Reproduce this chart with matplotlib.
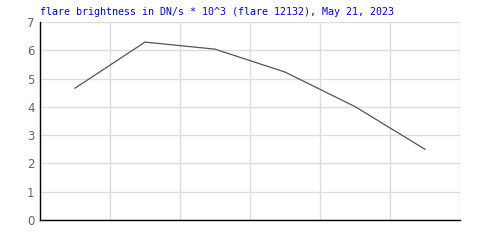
import matplotlib
matplotlib.use("Agg")
import matplotlib.pyplot as plt

# flare brightness samples (DN/s * 10^3)
samples = [0, 1, 2, 3, 4, 5]
brightness = [4.66, 6.29, 6.04, 5.23, 4.01, 2.50]
yticks = [0, 1, 2, 3, 4, 5, 6, 7]
title = "flare brightness in DN/s * 10^3 (flare 12132), May 21, 2023"

fig = plt.figure(figsize=(5, 2.5), dpi=100)
ax = fig.add_axes([0.08, 0.12, 0.84, 0.792])

ax.plot(samples, brightness, color="#555555", linewidth=0.9)

ax.set_xlim(-0.5, 5.5)
ax.set_ylim(0, 7)
ax.set_yticks(yticks)
ax.set_xticks([i + 0.5 for i in samples])
ax.set_xticklabels([])
ax.grid(True, color="#dddddd", linewidth=1)
ax.set_axisbelow(True)
ax.tick_params(length=0, labelsize=8.5, labelcolor="#666666", pad=4)

for s in ["top", "right"]:
    ax.spines[s].set_visible(False)
for s in ["left", "bottom"]:
    ax.spines[s].set_color("black")
    ax.spines[s].set_linewidth(1)

fig.text(0.08, 0.952, title, color="blue", fontsize=7.2,
         family="DejaVu Sans Mono", ha="left", va="center")

fig.savefig("out.png", dpi=100)
